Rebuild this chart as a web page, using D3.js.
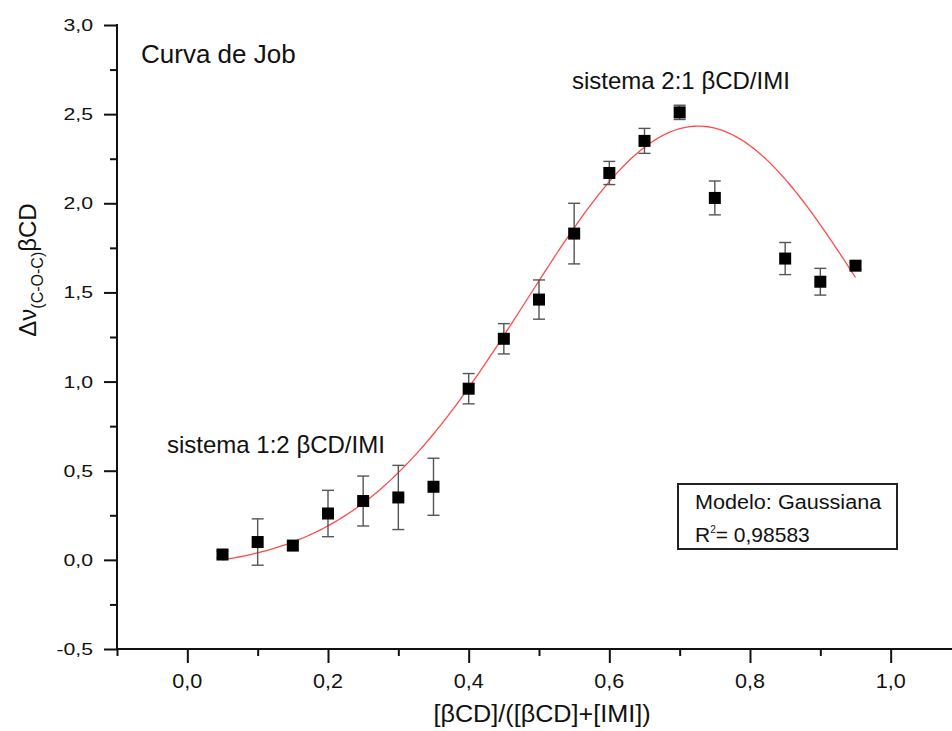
<!DOCTYPE html>
<html>
<head>
<meta charset="utf-8">
<script src="https://cdn.jsdelivr.net/npm/d3@7"></script>
<style>
  html, body { margin: 0; padding: 0; background: #fff; }
  svg { display: block; }
  text { font-family: "Liberation Sans", Arial, sans-serif; fill: #111; }
</style>
</head>
<body>
<svg id="chart" width="952" height="731"></svg>
<script>
// Job plot: molar fraction of βCD vs. shift of the C-O-C band
const fraction = [0.05, 0.10, 0.15, 0.20, 0.25, 0.30, 0.35, 0.40, 0.45, 0.50, 0.55, 0.60, 0.65, 0.70, 0.75, 0.85, 0.90, 0.95];
const shift    = [0.03, 0.10, 0.08, 0.26, 0.33, 0.35, 0.41, 0.96, 1.24, 1.46, 1.83, 2.17, 2.35, 2.51, 2.03, 1.69, 1.56, 1.65];
const shiftErr = [0.02, 0.13, 0.02, 0.13, 0.14, 0.18, 0.16, 0.085, 0.085, 0.11, 0.17, 0.065, 0.07, 0.04, 0.095, 0.09, 0.075, 0.02];

// Gaussian fit: y0 + H * exp(-2 ((x - xc) / w)^2)
const gaussY0 = -0.054, gaussH = 2.487, gaussXc = 0.7265, gaussW = 0.489;
const fitRange = [0.05, 0.95];

const xMajorTicks = [0.0, 0.2, 0.4, 0.6, 0.8, 1.0];
const xMinorTicks = [-0.1, 0.1, 0.3, 0.5, 0.7, 0.9, 1.1];
const yMajorTicks = [-0.5, 0.0, 0.5, 1.0, 1.5, 2.0, 2.5, 3.0];
const yMinorTicks = [-0.25, 0.25, 0.75, 1.25, 1.75, 2.25, 2.75];

// decimal comma and plain hyphen for negatives
const fmt = v => d3.format(".1f")(v).replace(".", ",").replace("\u2212", "-");

const svg = d3.select("#chart");
const x = d3.scaleLinear().domain([-0.1, 1.1]).range([117, 961]);
const y = d3.scaleLinear().domain([-0.5, 3.0]).range([649, 25]);

// text helper with horizontal stretch
function label(g, px, py, str, size, sx, anchor) {
  return g.append("text")
    .attr("transform", `translate(${px},${py}) scale(${sx},1)`)
    .attr("text-anchor", anchor || "start")
    .style("font-size", size + "px")
    .text(str);
}

// axes
const axisColor = "#111";
const gx = svg.append("g").attr("transform", `translate(0,${y(-0.5)})`);
gx.call(d3.axisBottom(x).tickValues(xMinorTicks).tickSize(7).tickFormat(""));
gx.call(g => g.append("g").call(d3.axisBottom(x).tickValues(xMajorTicks).tickSize(14).tickFormat("")));
gx.selectAll(".domain").remove();
gx.selectAll("line").attr("stroke", axisColor).attr("stroke-width", 2);

const gy = svg.append("g").attr("transform", `translate(${x(-0.1)},0)`);
gy.call(d3.axisLeft(y).tickValues(yMinorTicks).tickSize(7).tickFormat(""));
gy.call(g => g.append("g").call(d3.axisLeft(y).tickValues(yMajorTicks).tickSize(13).tickFormat("")));
gy.selectAll(".domain").remove();
gy.selectAll("line").attr("stroke", axisColor).attr("stroke-width", 2);

svg.append("line").attr("x1", x(-0.1) - 1).attr("x2", 952).attr("y1", y(-0.5)).attr("y2", y(-0.5))
  .attr("stroke", axisColor).attr("stroke-width", 2);
svg.append("line").attr("x1", x(-0.1)).attr("x2", x(-0.1)).attr("y1", y(3.0) - 1).attr("y2", y(-0.5) + 1)
  .attr("stroke", axisColor).attr("stroke-width", 2);

// tick labels
const tl = svg.append("g");
yMajorTicks.forEach(v => label(tl, 93, y(v) + 6, fmt(v), 17, 1.25, "end"));
xMajorTicks.forEach(v => label(tl, x(v), 688, fmt(v), 20, 1.08, "middle"));

// axis titles
label(svg, 542, 722, "[βCD]/([βCD]+[IMI])", 24, 1.05, "middle");

const yt = svg.append("text")
  .attr("transform", "translate(36,270) rotate(-90)")
  .attr("text-anchor", "middle")
  .style("font-size", "24px");
yt.append("tspan").text("Δν");
yt.append("tspan").attr("dy", 7).style("font-size", "16px").text("(C-O-C)");
yt.append("tspan").attr("dy", -7).text("βCD");

// fitted curve
const gauss = v => gaussY0 + gaussH * Math.exp(-2 * Math.pow((v - gaussXc) / gaussW, 2));
const curveX = d3.range(fitRange[0], fitRange[1] + 1e-9, 0.005);
svg.append("path")
  .datum(curveX)
  .attr("fill", "none")
  .attr("stroke", "#ff4a4a")
  .attr("stroke-width", 1.3)
  .attr("d", d3.line().x(v => x(v)).y(v => y(gauss(v))));

// error bars
const pts = fraction.map((f, i) => ({ f, v: shift[i], e: shiftErr[i] }));
const eb = svg.append("g").attr("stroke", "#555").attr("stroke-width", 1.4);
pts.forEach(p => {
  eb.append("line").attr("x1", x(p.f)).attr("x2", x(p.f)).attr("y1", y(p.v + p.e)).attr("y2", y(p.v - p.e));
  [p.v + p.e, p.v - p.e].forEach(c =>
    eb.append("line").attr("x1", x(p.f) - 6).attr("x2", x(p.f) + 6).attr("y1", y(c)).attr("y2", y(c)));
});

// markers
svg.append("g").selectAll("rect").data(pts).join("rect")
  .attr("x", p => x(p.f) - 6).attr("y", p => y(p.v) - 6)
  .attr("width", 12).attr("height", 12)
  .attr("fill", "#000");

// annotations
label(svg, 141, 63, "Curva de Job", 26, 1.0, "start");
label(svg, 572, 89, "sistema 2:1 βCD/IMI", 24, 1.0, "start");
label(svg, 167, 453, "sistema 1:2 βCD/IMI", 24, 1.0, "start");

// model box
svg.append("rect").attr("x", 678).attr("y", 484).attr("width", 219).attr("height", 65)
  .attr("fill", "#fff").attr("stroke", "#222").attr("stroke-width", 2);
label(svg, 695, 509, "Modelo: Gaussiana", 21, 1.03, "start");
const r2 = svg.append("text").attr("x", 695).attr("y", 542).style("font-size", "21px");
r2.append("tspan").text("R");
r2.append("tspan").attr("dy", -9).style("font-size", "10px").text("2");
r2.append("tspan").attr("dy", 9).text("= 0,98583");
</script>
</body>
</html>
